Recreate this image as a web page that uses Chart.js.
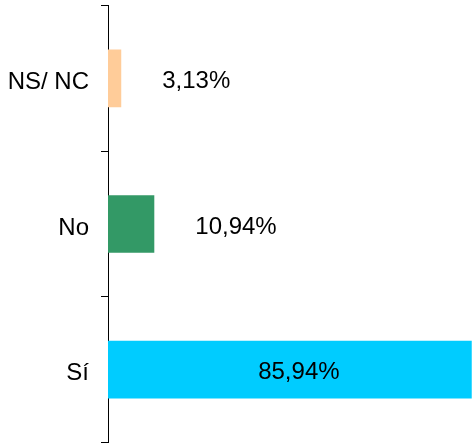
<!DOCTYPE html>
<html><head><meta charset="utf-8">
<script src="https://cdn.jsdelivr.net/npm/chart.js@4/dist/chart.umd.min.js"></script>
<style>html,body{margin:0;padding:0;background:#fff}#wrap{width:472px;height:443px}</style>
</head><body><div id="wrap"><canvas id="c"></canvas></div>
<script>
const categories = ['NS/ NC', 'No', 'Sí'];
const values = [3.13, 10.94, 85.94];
const valueLabels = ['3,13%', '10,94%', '85,94%'];
const barColors = ['#FFCC99', '#339966', '#00CCFF'];

const FONT = "'Liberation Sans', Arial, sans-serif";
const FSIZE = 24;

const labelPlugin = {
  id: 'valueLabels',
  afterDatasetsDraw(chart) {
    const ctx = chart.ctx;
    const meta = chart.getDatasetMeta(0);
    ctx.save();
    ctx.font = FSIZE + 'px ' + FONT;
    ctx.fillStyle = '#000';
    ctx.textBaseline = 'middle';
    meta.data.forEach((bar, i) => {
      const txt = valueLabels[i];
      const w = ctx.measureText(txt).width;
      const inside = (bar.x - bar.base) > w + 20;
      if (inside) {
        ctx.textAlign = 'center';
        ctx.fillText(txt, (bar.x + bar.base) / 2 + 9, bar.y + 3);
      } else {
        ctx.textAlign = 'left';
        ctx.fillText(txt, bar.x + 41, bar.y + 3.5);
      }
    });
    ctx.restore();
  }
};

new Chart(document.getElementById('c'), {
  type: 'bar',
  data: {
    labels: categories,
    datasets: [{
      data: values,
      backgroundColor: barColors,
      borderWidth: 0,
      categoryPercentage: 1,
      barPercentage: 0.396
    }]
  },
  options: {
    indexAxis: 'y',
    responsive: true,
    maintainAspectRatio: false,
    animation: false,
    layout: { padding: { top: 5.5, bottom: 0.5, left: 0, right: 0 } },
    plugins: { legend: { display: false }, tooltip: { enabled: false } },
    scales: {
      x: { display: false, min: 0, max: 86 },
      y: {
        afterFit(scale) { scale.width = 108; scale.paddingTop = 0; scale.paddingBottom = 0; },
        grid: { display: true, drawOnChartArea: false, drawTicks: true, tickLength: 7, color: '#000', offset: true },
        border: { display: true, color: '#000', width: 1 },
        ticks: { color: '#000', padding: 12, labelOffset: 4, font: { family: FONT, size: FSIZE } }
      }
    }
  },
  plugins: [labelPlugin]
});
</script>
</body></html>
